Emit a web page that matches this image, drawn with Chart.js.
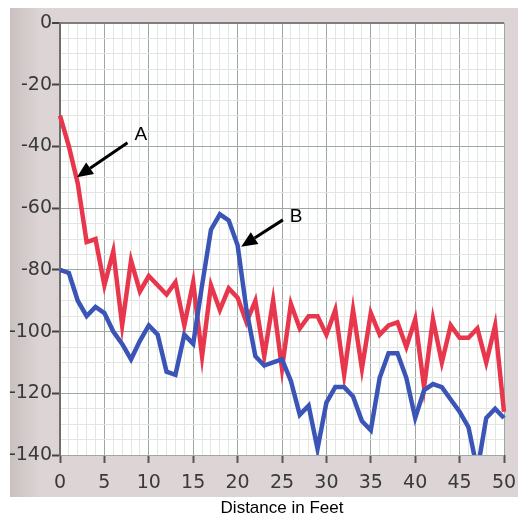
<!DOCTYPE html>
<html lang="en">
<head>
    <meta charset="UTF-8">
    <title>Distance in Feet</title>
    <script src="https://cdn.jsdelivr.net/npm/chart.js"></script>
    <style>
        body {
            margin: 0;
            padding: 0;
            background: #ffffff;
        }
        #wrap {
            width: 528px;
            height: 519px;
        }
    </style>
</head>
<body>
    <div id="wrap"><canvas id="plot"></canvas></div>

    <script>
        const distance = [0, 1, 2, 3, 4, 5, 6, 7, 8, 9, 10, 11, 12, 13, 14, 15, 16, 17, 18, 19, 20,
            21, 22, 23, 24, 25, 26, 27, 28, 29, 30, 31, 32, 33, 34, 35, 36, 37, 38, 39, 40,
            41, 42, 43, 44, 45, 46, 47, 48, 49, 50];
        const seriesA = [-30, -40, -52, -71, -70, -85, -74, -98, -77, -87, -82, -85, -88, -84, -98, -84, -108, -85, -93, -86, -89,
            -97, -90, -108, -90, -112, -91, -99, -95, -95, -101, -93, -114, -93, -112, -94, -101, -98, -97, -105, -96,
            -118, -96, -110, -98, -102, -102, -99, -110, -98, -126];
        const seriesB = [-80, -81, -90, -95, -92, -94, -100, -104, -109, -103, -98, -101, -113, -114, -101, -104, -85, -67, -62, -64, -72,
            -93, -108, -111, -110, -109, -116, -127, -124, -138, -123, -118, -118, -121, -129, -132, -115, -107, -107, -115, -128,
            -119, -117, -118, -122, -126, -131, -145, -128, -125, -128];
        const yTicks = [0, -20, -40, -60, -80, -100, -120, -140];
        const xTicks = [0, 5, 10, 15, 20, 25, 30, 35, 40, 45, 50];

        // arrows in data units: [tailX, tailY, headX, headY], label at [x, y]
        const arrows = [
            { text: 'A', tail: [7.6, -38.8], head: [1.9, -50.0], label: [9.1, -36.3] },
            { text: 'B', tail: [25.1, -63.8], head: [20.4, -72.5], label: [26.6, -62.8] }
        ];

        const toPoints = vals => vals.map((v, i) => ({ x: distance[i], y: v }));

        const frame = {
            id: 'frame',
            beforeDraw(chart) {
                const c = chart.ctx;
                const a = chart.chartArea;
                c.save();
                const g = c.createLinearGradient(10, 0, 40, 0);
                g.addColorStop(0, '#c9c0c0');
                g.addColorStop(1, '#ddd5d5');
                c.fillStyle = g;
                c.fillRect(10, 8, 508, 489);
                c.fillStyle = '#ffffff';
                c.fillRect(a.left, a.top, a.right - a.left, a.bottom - a.top);
                c.restore();
            },
            afterDatasetsDraw(chart) {
                const c = chart.ctx;
                const xs = chart.scales.x, ys = chart.scales.y;
                c.save();
                c.strokeStyle = '#000';
                c.fillStyle = '#000';
                c.lineWidth = 3;
                arrows.forEach(ar => {
                    const x1 = xs.getPixelForValue(ar.tail[0]), y1 = ys.getPixelForValue(ar.tail[1]);
                    const x2 = xs.getPixelForValue(ar.head[0]), y2 = ys.getPixelForValue(ar.head[1]);
                    const ang = Math.atan2(y2 - y1, x2 - x1);
                    const hl = 16, hw = 7;
                    const bx = x2 - hl * Math.cos(ang), by = y2 - hl * Math.sin(ang);
                    c.beginPath();
                    c.moveTo(x1, y1);
                    c.lineTo(bx, by);
                    c.stroke();
                    c.beginPath();
                    c.moveTo(x2, y2);
                    c.lineTo(bx + hw * Math.sin(ang), by - hw * Math.cos(ang));
                    c.lineTo(bx - hw * Math.sin(ang), by + hw * Math.cos(ang));
                    c.closePath();
                    c.fill();
                    c.font = '19px "Liberation Sans", Arial, sans-serif';
                    c.textAlign = 'center';
                    c.textBaseline = 'middle';
                    c.fillText(ar.text, xs.getPixelForValue(ar.label[0]), ys.getPixelForValue(ar.label[1]));
                });
                c.restore();
            }
        };

        const ctx = document.getElementById('plot').getContext('2d');
        new Chart(ctx, {
            type: 'line',
            data: {
                datasets: [{
                    label: 'B',
                    data: toPoints(seriesB),
                    borderColor: '#3a55b6',
                    borderWidth: 4.5,
                    pointRadius: 0,
                    tension: 0,
                    clip: { left: 5, right: 5, top: 0, bottom: 0 }
                }, {
                    label: 'A',
                    data: toPoints(seriesA),
                    borderColor: '#e8364c',
                    borderWidth: 4.5,
                    pointRadius: 0,
                    tension: 0,
                    clip: { left: 5, right: 5, top: 0, bottom: 0 }
                }]
            },
            options: {
                responsive: true,
                maintainAspectRatio: false,
                animation: false,
                layout: { padding: { left: 0, right: 24, top: 23, bottom: 0 } },
                plugins: {
                    legend: { display: false },
                    tooltip: { enabled: false }
                },
                scales: {
                    x: {
                        type: 'linear',
                        min: 0,
                        max: 50,
                        afterFit: s => { s.height = 64; },
                        ticks: {
                            stepSize: 1,
                            autoSkip: false,
                            maxRotation: 0,
                            padding: 9,
                            color: '#3a3a3a',
                            font: { family: '"DejaVu Sans", sans-serif', size: 19 },
                            callback: v => xTicks.includes(v) ? String(v) : ''
                        },
                        grid: {
                            color: c => c.tick && c.tick.value % 5 === 0 ? '#9ea8a2' : '#e1e6e3',
                            lineWidth: 1,
                            tickLength: 8,
                            tickWidth: 2,
                            tickColor: c => c.tick && c.tick.value % 5 === 0 ? '#555' : 'rgba(0,0,0,0)'
                        },
                        border: { display: false },
                        title: {
                            display: true,
                            text: 'Distance in Feet',
                            color: '#000',
                            padding: { top: 0, bottom: 0 },
                            font: { family: '"Liberation Sans", Arial, sans-serif', size: 17 }
                        }
                    },
                    y: {
                        min: -140,
                        max: 0,
                        afterFit: s => { s.width = 60; },
                        ticks: {
                            stepSize: 5,
                            autoSkip: false,
                            padding: 0,
                            color: '#3a3a3a',
                            font: { family: '"DejaVu Sans", sans-serif', size: 19 },
                            callback: v => yTicks.includes(v) ? String(v) : ''
                        },
                        grid: {
                            color: c => {
                                if (!c.tick) return '#e1e6e3';
                                if (c.tick.value === 0) return '#7d7d7d';
                                return c.tick.value % 20 === 0 ? '#9ea8a2' : '#e1e6e3';
                            },
                            lineWidth: c => c.tick && c.tick.value === 0 ? 2 : 1,
                            tickLength: 8,
                            tickWidth: 2,
                            tickColor: c => c.tick && c.tick.value % 20 === 0 ? '#444' : 'rgba(0,0,0,0)'
                        },
                        border: { display: true, color: '#6e6e6e', width: 2 }
                    }
                }
            },
            plugins: [frame]
        });
    </script>
</body>
</html>
